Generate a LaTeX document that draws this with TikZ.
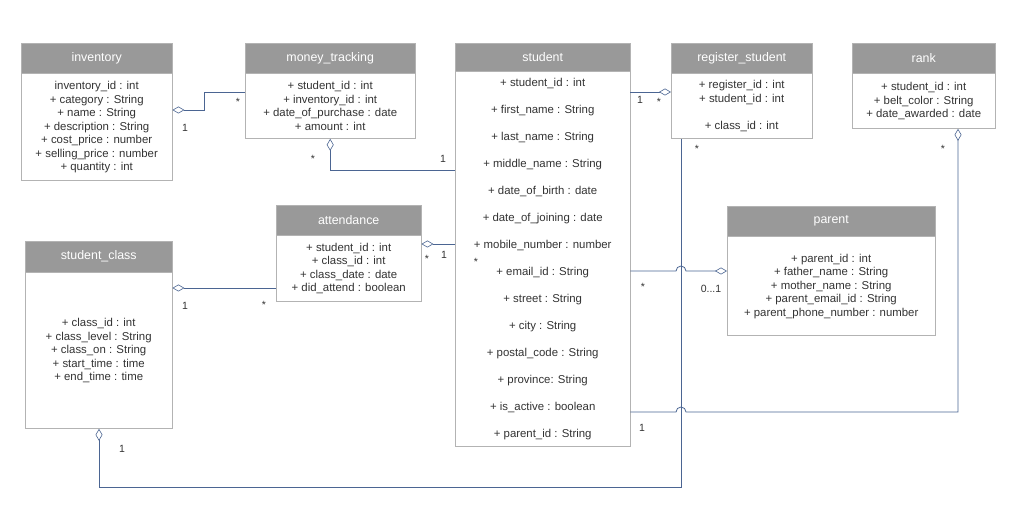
\documentclass[tikz,border=0pt]{standalone}
\usepackage{fontspec}
\setmainfont{Liberation Sans}
\usetikzlibrary{arrows.meta}
\definecolor{headgray}{HTML}{999999}
\definecolor{boxline}{HTML}{B3B3B3}
\definecolor{linkblue}{HTML}{4B6592}
\definecolor{txtgray}{HTML}{333333}
\begin{document}
\begin{tikzpicture}[x=1pt, y=-1pt,
    head/.style={draw=boxline, fill=headgray, text=white, anchor=north west,
      inner sep=0pt, minimum height=30pt, font=\fontsize{12.4}{14}\selectfont},
    body/.style={draw=boxline, fill=white, text=txtgray, anchor=north,
      align=center, inner sep=0pt, font=\fontsize{11.4}{13.5}\selectfont},
    link/.style={draw=linkblue, line width=0.8pt,
      {Diamond[fill=white, length=12pt, width=7pt, line width=0.6pt]}-},
    mult/.style={text=txtgray, inner sep=0pt, font=\fontsize{10.5}{12}\selectfont}]
  \useasboundingbox (0,0) rectangle (1027,518);

  % Class boxes
  \node[head, minimum width=151pt] (invh) at (21,43) {inventory};
  \node[body, minimum width=151pt, minimum height=107pt] (inv) at (invh.south)
    {inventory\_id : int\\ + category : String\\ + name : String\\
     + description : String\\ + cost\_price : number\\
     + selling\_price : number\\ + quantity : int};

  \node[head, minimum width=170pt] (mth) at (245,43) {money\_tracking};
  \node[body, minimum width=170pt, minimum height=65pt] (mt) at (mth.south)
    {+ student\_id : int\\ + inventory\_id : int\\
     + date\_of\_purchase : date\\ + amount : int};

  \node[head, minimum width=175pt, minimum height=28pt] (sth) at (455,43) {student};
  \node[body, minimum width=175pt, minimum height=375pt,
    font=\fontsize{11.4}{27}\selectfont] (st) at (sth.south)
    {+ student\_id : int\\ + first\_name : String\\ + last\_name : String\\
     + middle\_name : String\\ + date\_of\_birth : date\\
     + date\_of\_joining : date\\ + mobile\_number : number\\
     + email\_id : String\\ + street : String\\ + city : String\\
     + postal\_code : String\\ + province: String\\
     + is\_active : boolean\\ + parent\_id : String};

  \node[head, minimum width=141pt] (regh) at (671,43) {register\_student};
  \node[body, minimum width=141pt, minimum height=65pt] (reg) at (regh.south)
    {+ register\_id : int\\ + student\_id : int\\[13.5pt] + class\_id : int};

  \node[head, minimum width=143pt] (rkh) at (852,43) {rank};
  \node[body, minimum width=143pt, minimum height=55pt] (rk) at (rkh.south)
    {+ student\_id : int\\ + belt\_color : String\\ + date\_awarded : date};

  \node[head, minimum width=145pt] (atth) at (276,205) {attendance};
  \node[body, minimum width=145pt, minimum height=66pt] (att) at (atth.south)
    {+ student\_id : int\\ + class\_id : int\\ + class\_date : date\\
     + did\_attend : boolean};

  \node[head, minimum width=147pt, minimum height=31pt] (clsh) at (25,241) {student\_class};
  \node[body, minimum width=147pt, minimum height=156pt] (cls) at (clsh.south)
    {+ class\_id : int\\ + class\_level : String\\ + class\_on : String\\
     + start\_time : time\\ + end\_time : time};

  \node[head, minimum width=208pt] (parh) at (727,206) {parent};
  \node[body, minimum width=208pt, minimum height=99pt] (par) at (parh.south)
    {+ parent\_id : int\\ + father\_name : String\\ + mother\_name : String\\
     + parent\_email\_id : String\\ + parent\_phone\_number : number};

  % Associations
  \draw[link] (inv.east |- 0,110) -- (204,110) |- (mt.west |- 0,92);
  \draw[link] (mt.south) |- (st.west |- 0,170);
  \draw[link] (reg.west |- 0,92) -- (st.east |- 0,92);
  \draw[link] (att.east |- 0,244) -- (st.west |- 0,244);
  \draw[link] (cls.east |- 0,288) -- (att.west |- 0,288);
  \draw[link] (cls.south -| 99,0) -- (99,487) -| (reg.south -| 681,0);

  % Links that hop over the vertical line
  \draw[link] (par.west |- 0,271) -- (686,271)
    arc[start angle=0, end angle=180, radius=5pt] -- (st.east |- 0,271);
  \draw[link] (rk.south -| 958,0) -- (958,412) -- (686,412)
    arc[start angle=0, end angle=180, radius=5pt] -- (st.east |- 0,412);

  % Multiplicities
  \node[mult] (m1) at (185,128) {1};
  \node[mult] (m2) at (238,102) {*};
  \node[mult] (m3) at (313,159) {*};
  \node[mult] (m4) at (443,159) {1};
  \node[mult] (m5) at (640,100) {1};
  \node[mult] (m6) at (659,102) {*};
  \node[mult] (m7) at (697,149) {*};
  \node[mult] (m8) at (943,149) {*};
  \node[mult] (m9) at (427,259) {*};
  \node[mult] (m10) at (444,255) {1};
  \node[mult] (m11) at (185,306) {1};
  \node[mult] (m12) at (264,305) {*};
  \node[mult] (m13) at (476,262) {*};
  \node[mult] (m14) at (643,287) {*};
  \node[mult] (m15) at (711,289) {0...1};
  \node[mult] (m16) at (642,428) {1};
  \node[mult] (m17) at (122,449) {1};
\end{tikzpicture}
\end{document}
